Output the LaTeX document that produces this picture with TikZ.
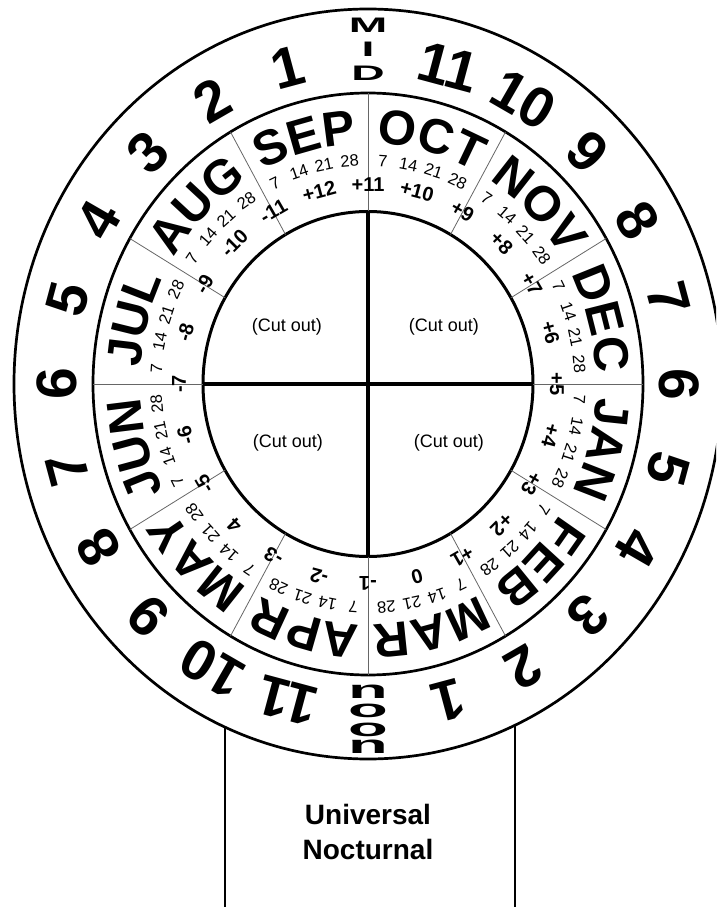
\documentclass[tikz,border=0pt]{standalone}
\usepackage{fontspec}
\setmainfont{Liberation Sans}
\usetikzlibrary{decorations.text}
\newcommand\mfont{\fontsize{49}{49}\selectfont\bfseries}
\newcommand\monthlabel[2]{%
  \path[decorate,decoration={text along path,text={|\mfont|#1},text align=center}]
    ({#2+25}:228) arc[start angle={#2+25}, end angle={#2-25}, x radius=228pt, y radius=240.5pt];}
\begin{document}
\begin{tikzpicture}[x=1pt,y=1.055pt,
  ring/.style={line width=2.7pt},
  divider/.style={line width=0.8pt, black!60},
  crossline/.style={line width=4pt},
  hourlbl/.style={font=\fontsize{57}{57}\selectfont\bfseries, inner sep=0pt},
  daylbl/.style={font=\fontsize{16.5}{16.5}\selectfont, inner sep=0pt},
  offlbl/.style={font=\fontsize{20}{20}\selectfont\bfseries, inner sep=0pt},
  midlbl/.style={font=\fontsize{21}{21}\selectfont\bfseries, inner sep=0pt, xscale=2.2},
  noonlbl/.style={font=\fontsize{25}{25}\selectfont\bfseries, inner sep=0pt, xscale=2.6},
  cutlbl/.style={font=\fontsize{18}{18}\selectfont, inner sep=0pt},
  boxline/.style={line width=2.5pt}]
\useasboundingbox (-368pt,-523pt) rectangle (348pt,384pt);
\clip (-368pt,-523pt) rectangle (348pt,384pt);
% rings
\draw[ring] (0,0) ellipse [x radius=354pt, y radius=375pt];
\draw[ring] (0,0) ellipse [x radius=275pt, y radius=291pt];
\draw[line width=3pt] (0,0) ellipse [x radius=165pt, y radius=172.5pt];
% month dividers
\foreach \a in {0,30,...,330}
  \draw[divider] (\a:165pt and 172.5pt) -- (\a:275pt and 291pt);
% cross
\draw[crossline] (-165pt,0pt) -- (165pt,0pt);
\draw[crossline] (0pt,-172.5pt) -- (0pt,172.5pt);
% months
\monthlabel{OCT}{75}
\monthlabel{NOV}{45}
\monthlabel{DEC}{15}
\monthlabel{JAN}{-15}
\monthlabel{FEB}{-45}
\monthlabel{MAR}{-75}
\monthlabel{APR}{-105}
\monthlabel{MAY}{-135}
\monthlabel{JUN}{-165}
\monthlabel{JUL}{165}
\monthlabel{AUG}{135}
\monthlabel{SEP}{105}
% day marks
\foreach \i in {0,...,11}
  \foreach \d in {7,14,21,28} {
    \pgfmathsetmacro\ang{90-30*\i-\d+3}
    \node[daylbl, rotate=\ang-90] (d\i-\d) at (\ang:212) {\d};
  }
% offsets
\foreach \t [count=\k from 0] in {+11,+10,+9,+8,+7,+6,+5,+4,+3,+2,+1,0,-1,-2,-3,4,-5,-6,-7,-8,-9,-10,-11,+12} {
  \pgfmathsetmacro\ang{90-15*\k}
  \node[offlbl, rotate=\ang-90] (o\k) at (\ang:189) {\t};
}
% hours
\foreach \h in {1,...,11} {
  \pgfmathsetmacro\ang{90-15*(12-\h)}
  \node[hourlbl, rotate=\ang-90] (ha\h) at (\ang:311) {\h};
  \pgfmathsetmacro\angb{90-15*(24-\h)}
  \node[hourlbl, rotate=\angb-90] (hb\h) at (\angb:311) {\h};
}
% MID
\node[midlbl] (midM) at (0pt,358.5pt) {M};
\node[midlbl] (midI) at (0pt,334.5pt) {I};
\node[midlbl] (midD) at (0pt,310.5pt) {D};
% noon
\node[noonlbl] (noon1) at (0pt,-307.5pt) {n};
\node[noonlbl] (noon2) at (0pt,-327pt) {o};
\node[noonlbl] (noon3) at (0pt,-346pt) {o};
\node[noonlbl] (noon4) at (0pt,-362.5pt) {n};
% cut out
\node[cutlbl] (c1) at (-81pt,57pt) {(Cut out)};
\node[cutlbl] (c2) at (76pt,57pt) {(Cut out)};
\node[cutlbl] (c3) at (-80pt,-59pt) {(Cut out)};
\node[cutlbl] (c4) at (81pt,-59pt) {(Cut out)};
% handle
\draw[boxline] (-143pt,-343pt) -- (-143pt,-530pt);
\draw[boxline] (147pt,-341pt) -- (147pt,-530pt);
\node[font=\fontsize{28}{35}\selectfont\bfseries, align=center] (title) at (0pt,-448pt) {Universal\\Nocturnal};
\end{tikzpicture}
\end{document}
